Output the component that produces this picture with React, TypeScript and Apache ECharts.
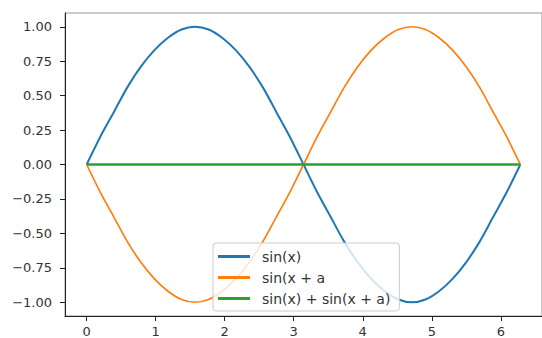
import React, { useEffect, useRef } from "react";
import * as echarts from "echarts";

const xs = [0, 0.196, 0.393, 0.589, 0.785, 0.982, 1.178, 1.374, 1.571, 1.767, 1.963, 2.16, 2.356, 2.553, 2.749, 2.945, 3.142, 3.338, 3.534, 3.731, 3.927, 4.123, 4.32, 4.516, 4.712, 4.909, 5.105, 5.301, 5.498, 5.694, 5.89, 6.087, 6.283];
const sinX = [0, 0.2, 0.38, 0.56, 0.71, 0.83, 0.92, 0.98, 1.0, 0.98, 0.92, 0.83, 0.71, 0.56, 0.38, 0.2, 0, -0.2, -0.38, -0.56, -0.71, -0.83, -0.92, -0.98, -1.0, -0.98, -0.92, -0.83, -0.71, -0.56, -0.38, -0.2, 0];
const sinXA = [0, -0.2, -0.38, -0.56, -0.71, -0.83, -0.92, -0.98, -1.0, -0.98, -0.92, -0.83, -0.71, -0.56, -0.38, -0.2, 0, 0.2, 0.38, 0.56, 0.71, 0.83, 0.92, 0.98, 1.0, 0.98, 0.92, 0.83, 0.71, 0.56, 0.38, 0.2, 0];
const sumY = [0, 0, 0, 0, 0, 0, 0, 0, 0, 0, 0, 0, 0, 0, 0, 0, 0, 0, 0, 0, 0, 0, 0, 0, 0, 0, 0, 0, 0, 0, 0, 0, 0];
const seriesNames = ["sin(x)", "sin(x + a", "sin(x) + sin(x + a)"];
const xTicks = [0, 1, 2, 3, 4, 5, 6];
const yTicks = [-1, -0.75, -0.5, -0.25, 0, 0.25, 0.5, 0.75, 1];

const FONT = "DejaVu Sans";

export default function App() {
  const ref = useRef<HTMLDivElement>(null);
  useEffect(() => {
    if (!ref.current) return;
    const chart = echarts.init(ref.current, null, { renderer: "svg" });
    const pair = (ys: number[]) => xs.map((x, i) => [x, ys[i]]);
    chart.setOption({
      animation: false,
      grid: {
        left: 65,
        top: 13,
        width: 485,
        height: 304,
        show: true,
        borderColor: "#999",
        borderWidth: 1,
        backgroundColor: "transparent",
      },
      xAxis: {
        type: "value",
        min: -0.314,
        max: 6.597,
        splitLine: { show: false },
        axisLine: { show: true, onZero: false, lineStyle: { color: "#222", width: 1 } },
        axisTick: { show: true, inside: false, length: 5, customValues: xTicks, lineStyle: { color: "#222" } },
        axisLabel: {
          customValues: xTicks,
          margin: 9,
          color: "#333",
          fontFamily: FONT,
          fontSize: 13,
          formatter: (v: number) => String(v),
        },
      },
      yAxis: {
        type: "value",
        min: -1.1,
        max: 1.1,
        splitLine: { show: false },
        axisLine: { show: true, onZero: false, lineStyle: { color: "#222", width: 1 } },
        axisTick: { show: true, inside: false, length: 5, customValues: yTicks, lineStyle: { color: "#222" } },
        axisLabel: {
          customValues: yTicks,
          margin: 13,
          color: "#333",
          fontFamily: FONT,
          fontSize: 13,
          formatter: (v: number) => v.toFixed(2).replace("-", "\u2212"),
        },
      },
      legend: {
        orient: "vertical",
        left: 213,
        top: 243,
        padding: [6, 9, 5, 5],
        itemGap: 6,
        itemWidth: 32,
        itemHeight: 3,
        icon: "rect",
        backgroundColor: "rgba(255,255,255,0.8)",
        borderColor: "#ccc",
        borderWidth: 1,
        borderRadius: 3,
        textStyle: {
          fontFamily: FONT,
          fontSize: 14,
          color: "#333",
          lineHeight: 15,
          padding: [0, 0, 0, 7],
        },
        data: seriesNames,
      },
      series: [
        {
          name: seriesNames[0],
          type: "line",
          data: pair(sinX),
          symbol: "none",
          smooth: 0.3,
          color: "#1f77b4",
          lineStyle: { width: 2, color: "#1f77b4" },
        },
        {
          name: seriesNames[1],
          type: "line",
          data: pair(sinXA),
          symbol: "none",
          smooth: 0.3,
          color: "#ff7f0e",
          lineStyle: { width: 1.7, color: "#ff7f0e" },
        },
        {
          name: seriesNames[2],
          type: "line",
          data: pair(sumY),
          symbol: "none",
          color: "#2ca02c",
          lineStyle: { width: 2.5, color: "#2ca02c" },
        },
      ],
    });
    return () => chart.dispose();
  }, []);
  return (
    <div
      ref={ref}
      style={{ position: "fixed", left: 0, top: 0, width: 542, height: 338, background: "#fff" }}
    />
  );
}
